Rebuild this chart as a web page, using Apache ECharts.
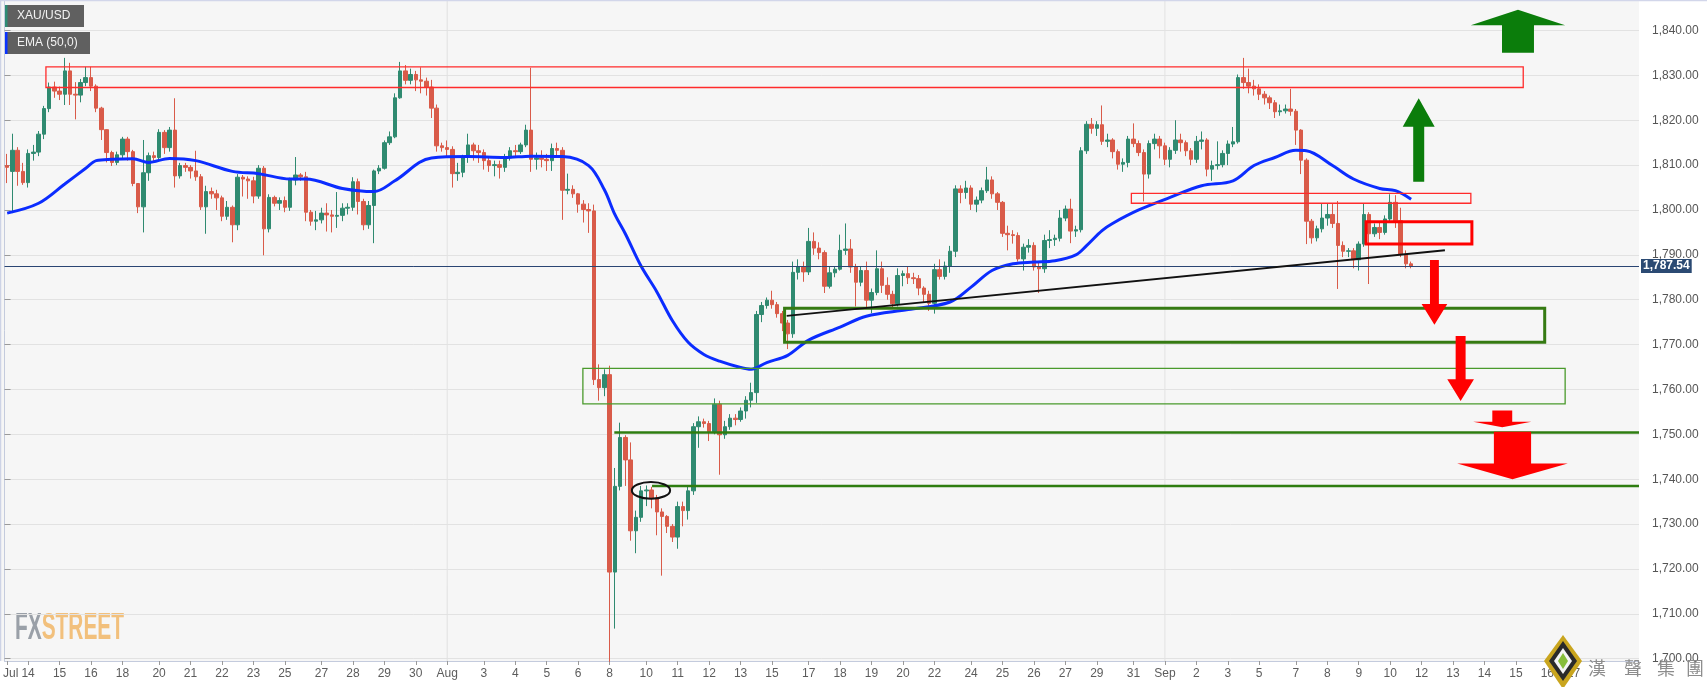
<!DOCTYPE html>
<html><head><meta charset="utf-8">
<script src="https://cdn.jsdelivr.net/npm/echarts@6/dist/echarts.min.js"></script>
<style>html,body{margin:0;padding:0;background:#fff}#c{width:1707px;height:687px}</style>
</head><body><div id="c"></div>
<script>
// ---------------- DATA ----------------
const symbolName = 'XAU/USD';
const indicatorName = 'EMA (50,0)';
const slotCount = 312;            // 4h slots on the time axis (incl. empty future space)
const lastPrice = 1787.54;
const priceMin = 1699.48, priceMax = 1846.80, priceStep = 10;
// tick labels: [slot index, label]
const tickLabels = [[0,'Jul'],[4,'14'],[10,'15'],[16,'16'],[22,'18'],[29,'20'],[35,'21'],[41,'22'],[47,'23'],[53,'25'],[60,'27'],[66,'28'],[72,'29'],[78,'30'],[84,'Aug'],[91,'3'],[97,'4'],[103,'5'],[109,'6'],[115,'8'],[122,'10'],[128,'11'],[134,'12'],[140,'13'],[146,'15'],[153,'17'],[159,'18'],[165,'19'],[171,'20'],[177,'22'],[184,'24'],[190,'25'],[196,'26'],[202,'27'],[208,'29'],[215,'31'],[221,'Sep'],[227,'2'],[233,'3'],[239,'5'],[246,'7'],[252,'8'],[258,'9'],[264,'10'],[270,'12'],[276,'13'],[282,'14'],[288,'15'],[294,'16'],[299,'17']];
const monthStarts = [84, 221];
// candles: [open, close, high, low]
const candles = [
[1809.9,1809.5,1812.5,1806.0],[1808.6,1813.3,1817.0,1799.3],[1813.3,1808.6,1814.0,1805.4],[1808.6,1806.1,1810.5,1805.6],
[1806.1,1812.6,1813.5,1805.0],[1812.6,1812.9,1814.5,1811.0],[1812.9,1816.9,1817.6,1812.0],[1816.9,1822.6,1823.2,1815.8],
[1822.6,1827.4,1828.4,1821.8],[1827.4,1826.5,1828.6,1825.0],[1826.5,1825.8,1827.5,1824.5],[1825.8,1831.0,1833.9,1823.4],
[1831.0,1825.8,1832.8,1823.4],[1825.8,1825.6,1828.5,1820.2],[1825.6,1828.4,1829.2,1824.0],[1828.4,1829.5,1831.9,1827.6],
[1829.5,1827.6,1831.9,1826.5],[1827.6,1822.7,1828.0,1821.8],[1822.7,1817.9,1823.0,1815.6],[1817.9,1812.8,1818.0,1810.6],
[1812.8,1810.6,1813.2,1809.8],[1810.6,1812.3,1813.0,1810.0],[1812.3,1815.8,1816.3,1811.5],[1815.8,1813.0,1816.3,1811.0],
[1813.0,1805.9,1813.4,1805.3],[1805.9,1800.7,1806.0,1799.3],[1800.7,1808.3,1815.6,1795.0],[1808.3,1812.1,1812.8,1806.5],
[1812.1,1811.7,1813.0,1810.5],[1811.7,1817.3,1818.0,1811.0],[1817.3,1813.9,1817.8,1812.5],[1813.9,1817.8,1818.5,1813.0],
[1817.8,1807.6,1824.9,1805.0],[1807.6,1809.9,1810.5,1807.0],[1809.9,1809.5,1810.5,1808.5],[1809.5,1808.7,1810.0,1807.0],
[1808.7,1807.4,1813.2,1806.5],[1807.4,1800.7,1808.0,1800.0],[1800.7,1804.1,1805.4,1794.7],[1804.1,1803.6,1805.0,1802.5],
[1803.6,1802.7,1804.5,1800.0],[1802.7,1798.6,1803.2,1797.5],[1798.6,1800.6,1802.0,1797.8],[1800.6,1796.7,1801.0,1792.8],
[1796.7,1807.3,1808.0,1795.5],[1807.3,1806.9,1807.8,1803.0],[1806.9,1806.5,1807.5,1802.5],[1806.5,1803.1,1807.4,1801.5],
[1803.1,1809.3,1810.0,1802.5],[1809.3,1795.8,1809.8,1789.9],[1795.8,1802.8,1803.5,1795.0],[1802.8,1801.5,1803.2,1800.8],
[1801.5,1802.1,1802.8,1800.0],[1802.1,1800.6,1803.0,1799.5],[1800.6,1806.7,1807.2,1799.8],[1806.7,1807.8,1811.8,1805.5],
[1807.8,1807.4,1808.2,1806.5],[1807.4,1799.5,1808.5,1797.5],[1799.5,1797.5,1800.0,1796.5],[1797.5,1797.8,1799.8,1795.5],
[1797.8,1799.3,1800.5,1797.0],[1799.3,1798.9,1801.5,1795.2],[1798.9,1798.6,1800.0,1795.0],[1798.6,1798.8,1804.0,1796.0],
[1798.8,1800.4,1801.5,1797.5],[1800.4,1800.6,1801.5,1799.0],[1800.6,1806.3,1807.3,1799.8],[1806.3,1801.9,1807.0,1799.0],
[1801.9,1796.7,1802.5,1795.5],[1796.7,1801.0,1802.0,1795.8],[1801.0,1808.7,1809.0,1792.6],[1808.7,1809.3,1810.0,1808.0],
[1809.3,1815.0,1815.5,1809.0],[1815.0,1816.3,1817.5,1814.5],[1816.3,1825.0,1826.0,1816.0],[1825.0,1831.0,1833.0,1824.8],
[1831.0,1828.9,1832.3,1828.0],[1828.9,1830.2,1831.5,1828.0],[1830.2,1829.0,1831.0,1826.5],[1829.0,1828.7,1831.8,1826.0],
[1828.7,1827.4,1829.5,1825.5],[1827.4,1822.7,1829.0,1820.5],[1822.7,1814.3,1823.5,1813.0],[1814.3,1813.9,1815.0,1813.0],
[1813.9,1813.5,1815.5,1812.0],[1813.5,1808.1,1814.2,1805.0],[1808.1,1808.4,1810.5,1806.5],[1808.4,1811.7,1812.3,1807.3],
[1811.7,1814.5,1817.0,1810.5],[1814.5,1813.2,1815.0,1811.0],[1813.2,1812.8,1814.5,1810.5],[1812.8,1811.0,1813.5,1809.0],
[1811.0,1809.9,1812.0,1808.5],[1809.9,1810.1,1811.0,1807.5],[1810.1,1809.5,1811.0,1807.0],[1809.5,1811.6,1812.5,1808.5],
[1811.6,1813.2,1814.0,1811.0],[1813.2,1813.0,1814.5,1812.0],[1813.0,1814.5,1815.0,1812.5],[1814.5,1817.8,1819.0,1814.0],
[1817.8,1811.3,1831.7,1808.5],[1811.3,1811.6,1812.8,1809.0],[1811.6,1811.3,1813.3,1809.5],[1811.3,1811.0,1812.5,1808.7],
[1811.0,1813.7,1814.8,1808.7],[1813.7,1813.3,1815.0,1812.0],[1813.3,1804.4,1814.0,1797.8],[1804.4,1804.6,1808.1,1803.5],
[1804.6,1803.6,1805.5,1802.7],[1803.6,1801.3,1803.8,1799.4],[1801.3,1800.1,1802.2,1797.2],[1800.1,1799.8,1801.5,1794.9],
[1799.8,1762.2,1801.2,1761.0],[1762.2,1760.4,1765.6,1757.5],[1760.4,1763.3,1764.5,1758.5],[1763.3,1719.3,1765.3,1699.3],
[1719.3,1738.4,1742.5,1706.7],[1738.4,1749.3,1752.6,1737.5],[1749.3,1744.3,1749.8,1738.5],[1744.3,1728.5,1748.2,1726.3],
[1728.5,1731.5,1733.0,1723.5],[1731.5,1737.4,1738.5,1730.5],[1737.4,1737.6,1738.6,1734.0],[1737.6,1735.8,1738.3,1733.5],
[1735.8,1732.7,1736.5,1727.5],[1732.7,1731.7,1733.5,1718.5],[1731.7,1729.5,1732.0,1728.0],[1729.5,1727.1,1730.0,1726.0],
[1727.1,1733.9,1735.0,1724.5],[1733.9,1733.0,1735.0,1729.5],[1733.0,1737.4,1738.5,1731.0],[1737.4,1751.7,1752.5,1736.5],
[1751.7,1752.8,1754.0,1747.0],[1752.8,1752.4,1753.5,1751.5],[1752.4,1750.6,1753.0,1748.5],[1750.6,1756.7,1758.0,1750.0],
[1756.7,1749.9,1757.5,1741.0],[1749.9,1751.7,1753.0,1749.0],[1751.7,1753.6,1754.5,1751.0],[1753.6,1753.3,1754.5,1752.0],
[1753.3,1755.2,1756.0,1752.8],[1755.2,1757.6,1758.5,1753.5],[1757.6,1759.3,1761.5,1756.0],[1759.3,1776.7,1777.5,1757.0],
[1776.7,1778.7,1779.5,1775.0],[1778.7,1779.9,1780.5,1778.0],[1779.9,1778.9,1782.0,1778.0],[1778.9,1776.9,1779.5,1776.0],
[1776.9,1774.8,1777.5,1773.0],[1774.8,1772.4,1775.5,1769.0],[1772.4,1786.1,1788.5,1771.5],[1786.1,1787.4,1789.0,1784.5],
[1787.4,1786.2,1788.5,1784.0],[1786.2,1793.0,1796.0,1785.5],[1793.0,1791.5,1795.0,1790.0],[1791.5,1790.5,1792.8,1789.0],
[1790.5,1783.0,1791.0,1781.5],[1783.0,1786.0,1787.5,1782.5],[1786.0,1786.8,1787.5,1785.0],[1786.8,1791.0,1794.5,1786.5],
[1791.0,1791.3,1797.0,1790.0],[1791.3,1787.3,1793.5,1786.0],[1787.3,1783.9,1788.0,1778.5],[1783.9,1786.5,1787.5,1783.0],
[1786.5,1779.9,1788.5,1778.2],[1779.9,1781.6,1782.5,1777.0],[1781.6,1786.9,1791.0,1781.0],[1786.9,1783.2,1788.5,1781.5],
[1783.2,1781.2,1785.0,1780.0],[1781.2,1779.1,1782.0,1778.0],[1779.1,1785.4,1787.0,1778.5],[1785.4,1785.8,1786.5,1783.0],
[1785.8,1784.9,1787.5,1783.5],[1784.9,1784.7,1786.0,1783.5],[1784.7,1782.6,1785.5,1781.0],[1782.6,1781.2,1783.0,1779.5],
[1781.2,1779.2,1782.0,1777.5],[1779.2,1786.7,1788.0,1776.9],[1786.7,1785.2,1789.0,1784.5],[1785.2,1787.5,1788.5,1784.5],
[1787.5,1790.8,1792.0,1786.0],[1790.8,1804.7,1805.5,1789.5],[1804.7,1803.9,1805.5,1801.5],[1803.9,1804.9,1806.5,1802.5],
[1804.9,1801.3,1805.5,1800.0],[1801.3,1802.2,1803.0,1799.5],[1802.2,1804.3,1805.0,1801.5],[1804.3,1806.7,1809.6,1803.8],
[1806.7,1803.6,1807.5,1802.5],[1803.6,1801.7,1804.0,1800.0],[1801.7,1794.8,1802.0,1794.0],[1794.8,1794.5,1796.5,1791.0],
[1794.5,1794.3,1795.5,1792.5],[1794.3,1789.1,1795.0,1788.5],[1789.1,1791.7,1792.5,1786.5],[1791.7,1792.1,1793.5,1790.5],
[1792.1,1787.3,1792.8,1786.5],[1787.3,1786.9,1788.5,1781.5],[1786.9,1793.2,1794.5,1786.0],[1793.2,1793.4,1795.5,1791.5],
[1793.4,1793.7,1794.5,1792.0],[1793.7,1798.2,1800.0,1793.0],[1798.2,1800.2,1801.0,1797.5],[1800.2,1795.3,1802.5,1792.6],
[1795.3,1795.6,1796.5,1794.0],[1795.6,1813.2,1814.0,1795.0],[1813.2,1819.1,1819.8,1812.5],[1819.1,1818.2,1820.5,1817.0],
[1818.2,1819.0,1819.8,1816.5],[1819.0,1815.3,1823.3,1814.5],[1815.3,1815.6,1817.0,1814.0],[1815.6,1813.0,1816.0,1811.5],
[1813.0,1810.2,1813.5,1809.0],[1810.2,1810.6,1811.5,1808.5],[1810.6,1815.8,1816.5,1809.5],[1815.8,1814.8,1819.3,1814.0],
[1814.8,1812.8,1815.5,1812.0],[1812.8,1808.0,1813.5,1801.9],[1808.0,1814.8,1815.5,1807.0],[1814.8,1815.8,1817.0,1813.5],
[1815.8,1814.3,1816.5,1811.5],[1814.3,1811.3,1815.0,1810.0],[1811.3,1813.3,1814.0,1809.5],[1813.3,1815.6,1820.0,1812.5],
[1815.6,1815.0,1817.0,1813.0],[1815.0,1813.2,1815.5,1812.0],[1813.2,1811.3,1813.8,1810.0],[1811.3,1815.3,1816.5,1810.5],
[1815.3,1815.6,1817.5,1813.5],[1815.6,1809.1,1816.0,1807.5],[1809.1,1809.9,1811.0,1806.5],[1809.9,1810.1,1815.3,1809.0],
[1810.1,1812.6,1813.3,1809.5],[1812.6,1814.7,1815.5,1810.0],[1814.7,1815.2,1818.5,1814.0],[1815.2,1829.5,1830.2,1814.8],
[1829.5,1828.4,1833.9,1827.0],[1828.4,1827.6,1831.5,1826.0],[1827.6,1827.0,1829.0,1825.5],[1827.0,1825.8,1828.0,1824.5],
[1825.8,1825.0,1826.5,1823.5],[1825.0,1823.9,1825.5,1822.5],[1823.9,1821.9,1824.5,1820.5],[1821.9,1822.1,1823.5,1821.0],
[1822.1,1822.5,1823.5,1821.5],[1822.5,1822.0,1827.0,1821.0],[1822.0,1817.8,1822.5,1814.5],[1817.8,1811.1,1818.0,1808.0],
[1811.1,1797.5,1811.5,1792.4],[1797.5,1793.8,1798.0,1792.5],[1793.8,1795.8,1796.5,1793.0],[1795.8,1798.2,1801.5,1795.0],
[1798.2,1799.0,1801.5,1796.5],[1799.0,1797.0,1801.5,1796.0],[1797.0,1792.1,1802.0,1782.4],[1792.1,1790.8,1793.0,1789.5],
[1790.8,1790.9,1791.5,1789.5],[1790.9,1788.9,1791.5,1787.0],[1788.9,1792.4,1793.0,1786.5],[1792.4,1799.0,1801.5,1791.8],
[1799.0,1794.7,1799.5,1783.5],[1794.7,1796.1,1797.0,1794.0],[1796.1,1795.0,1797.5,1793.5],[1795.0,1798.0,1798.8,1794.5],
[1798.0,1801.7,1803.5,1797.5],[1801.7,1797.6,1803.3,1796.0],[1797.6,1790.1,1800.5,1789.5],[1790.1,1788.0,1791.0,1787.0],
[1788.0,1787.54,1788.5,1787.0]
];
// EMA(50): [slot index, value]
const emaPoints = [[0,1799.3],[6,1801.5],[11,1805.8],[15,1809.3],[17,1811.0],[20,1811.3],[24,1811.4],[27,1810.6],[31,1811.5],[36,1811.0],[43,1808.6],[48,1808.1],[54,1806.9],[57,1806.9],[64,1804.8],[70,1804.1],[74,1806.5],[81,1811.6],[88,1811.9],[95,1811.7],[100,1812.0],[106,1811.9],[111,1809.9],[114,1804.5],[116,1799.0],[118,1794.7],[121,1787.5],[124,1781.8],[127,1775.3],[130,1770.5],[133,1767.8],[136,1766.3],[140,1764.9],[142,1764.5],[145,1766.0],[149,1767.6],[153,1771.0],[159,1773.9],[164,1776.3],[172,1777.8],[180,1779.5],[184,1782.8],[188,1786.5],[192,1788.0],[196,1788.4],[200,1788.7],[204,1790.0],[206,1792.0],[209,1795.4],[211,1797.0],[216,1800.0],[222,1802.8],[228,1805.4],[234,1806.5],[238,1809.9],[242,1811.7],[246,1813.3],[248,1813.2],[253,1809.9],[257,1806.9],[262,1804.8],[265,1804.3],[268,1802.4]];
// annotation zones: [fromSlot, toSlot, low, high] (slot units on the time axis)
const resistanceZones = [[7.9,289.9,1827.3,1831.9],[215.1,279.9,1801.5,1803.7]];
const sellZones = [[259.9,280.1,1792.4,1797.4]];
const supportZones = [[148.9,294.0,1770.5,1778.1]];
const demandZones = [[110.4,297.9,1756.8,1764.7]];
// levels: [fromSlot, toSlot, price]
const supportLevels = [[116.4,312,1750.4],[123.6,312,1738.5]];
// trend line: [fromSlot, price, toSlot, price]
const trendLines = [[149.3,1776.4,274.95,1791.0]];
// circled swing high: [slot, price]
const swingMarks = [[123.4,1737.5]];
// arrows: [slot, tail price, head-base price, tip price]
const upArrows = [[288.9,1835.05,1841.2,1844.6],[269.95,1806.3,1818.56,1824.9]];
const downArrows = [[272.95,1788.85,1779.05,1774.4],[277.95,1771.9,1762.3,1757.4],[285.9,1755.3,1752.8,1751.6],[287.85,1750.6,1743.5,1740.0]];

// ---------------- LAYOUT / STYLE ----------------
const upArrowSize = [[3.05,9.0],[1.05,3.05]];        // [shaft half-width, head half-width] in slots
const downArrowSize = [[0.85,2.45],[0.95,2.55],[1.9,5.55],[3.55,10.55]];
const ellipseSize = [3.65, 1.85];
const UP = '#2f8a70', DOWN = '#d95b49';
const labelMap = new Map(tickLabels);
const categories = Array.from({length: slotCount}, (_, i) => String(i));
const fmtPrice = v => { const p = v.toFixed(2).split('.'); return p[0].replace(/\B(?=(\d{3})+(?!\d))/g, ',') + '.' + p[1]; };
const showTick = (i) => labelMap.has(i);

function boxSeries(data, color, width) {
  return { type: 'custom', xAxisIndex: 1, yAxisIndex: 0, z: 5, silent: true, data: data,
    encode: { x: [0, 1], y: [2, 3] },
    renderItem: (p, api) => {
      const a = api.coord([api.value(0), api.value(3)]);
      const b = api.coord([api.value(1), api.value(2)]);
      return { type: 'rect', shape: { x: a[0], y: a[1], width: b[0] - a[0], height: b[1] - a[1] },
        style: { fill: 'none', stroke: color, lineWidth: width } };
    } };
}
function segSeries(data, color, width, z) {
  return { type: 'custom', xAxisIndex: 1, yAxisIndex: 0, z: z, silent: true, data: data,
    encode: { x: [0, 2], y: [1, 3] },
    renderItem: (p, api) => {
      const a = api.coord([api.value(0), api.value(1)]);
      const b = api.coord([api.value(2), api.value(3)]);
      return { type: 'line', shape: { x1: a[0], y1: a[1], x2: b[0], y2: b[1] },
        style: { stroke: color, lineWidth: width } };
    } };
}
function arrowSeries(data, sizes, color) {
  return { type: 'custom', xAxisIndex: 1, yAxisIndex: 0, z: 6, silent: true, data: data,
    encode: { x: 0, y: [1, 2, 3] },
    renderItem: (p, api) => {
      const u = api.value(0), tail = api.value(1), base = api.value(2), tip = api.value(3);
      const sw = sizes[p.dataIndex][0], hw = sizes[p.dataIndex][1];
      const pts = [[u - sw, tail], [u - sw, base], [u - hw, base], [u, tip], [u + hw, base], [u + sw, base], [u + sw, tail]].map(q => api.coord(q));
      return { type: 'polygon', shape: { points: pts }, style: { fill: color } };
    } };
}

const chart = echarts.init(document.getElementById('c'), null, { renderer: 'canvas' });
const axisFont = "'Liberation Sans Narrow','Liberation Sans',Arial,sans-serif";
const cjk = "18px 'Noto Sans CJK TC',sans-serif";
const wmChar = (ch, x) => ({ type: 'text', z: 60, silent: true, x: x, y: 668, style: { text: ch, fill: '#8c8c8c', font: cjk, align: 'center', textAlign: 'center', verticalAlign: 'middle', textVerticalAlign: 'middle' } });
const option = {
  animation: false,
  backgroundColor: '#ffffff',
  grid: { left: 0, right: 68, top: 0, bottom: 26, containLabel: false },
  xAxis: [
    { type: 'category', data: categories, boundaryGap: true,
      axisLine: { show: true, lineStyle: { color: '#c4cbdd', width: 1 } },
      axisTick: { show: true, alignWithLabel: true, interval: showTick, length: 4, lineStyle: { color: '#9a9a9a' } },
      axisLabel: { interval: showTick, margin: 7, color: '#5c5c5c', fontSize: 12, fontFamily: axisFont,
        formatter: (v, i) => { const t = labelMap.get(Number(v)) || ''; return t === 'Jul' ? '{j|Jul}' : t; },
        rich: { j: { padding: [0, 0, 0, 7], color: '#5c5c5c', fontSize: 12, fontFamily: axisFont } } },
      splitLine: { show: false } },
    { type: 'value', min: 0, max: slotCount, show: false }
  ],
  yAxis: { type: 'value', position: 'right', min: priceMin, max: priceMax, minInterval: priceStep, maxInterval: priceStep, splitNumber: 15,
    axisLine: { show: true, lineStyle: { color: '#c4cbdd' } },
    axisTick: { show: true, length: 6, lineStyle: { color: '#9a9a9a' } },
    axisLabel: { margin: 13, color: '#555', fontSize: 12, fontFamily: "'Liberation Sans',Arial,sans-serif", formatter: fmtPrice, showMinLabel: false, showMaxLabel: false },
    splitLine: { show: true, lineStyle: { color: '#e2e2e2', width: 1 } } },
  graphic: [
    { type: 'rect', z: -1, silent: true, shape: { x: 0, y: 0, width: 1639, height: 661 }, style: { fill: '#f6f6f6' } },
    { type: 'line', z: 50, silent: true, shape: { x1: 0, y1: 0.5, x2: 1707, y2: 0.5 }, style: { stroke: '#d2d6ea', lineWidth: 1.5 } },
    { type: 'line', z: 50, silent: true, shape: { x1: 0.5, y1: 0, x2: 0.5, y2: 661 }, style: { stroke: '#cdd3e6', lineWidth: 1.5 } },
    { type: 'rect', z: 50, shape: { x: 5, y: 5, width: 79, height: 22 }, style: { fill: '#606060' } },
    { type: 'rect', z: 51, shape: { x: 5, y: 5, width: 2.5, height: 22 }, style: { fill: '#2e8b74' } },
    { type: 'text', z: 52, x: 17, y: 16, style: { text: symbolName, fill: '#f2f2f2', font: "12px 'Liberation Sans',Arial,sans-serif", verticalAlign: 'middle', textVerticalAlign: 'middle' } },
    { type: 'rect', z: 50, shape: { x: 5, y: 32, width: 85, height: 22 }, style: { fill: '#606060' } },
    { type: 'rect', z: 51, shape: { x: 5, y: 32, width: 2.5, height: 22 }, style: { fill: '#0a33ff' } },
    { type: 'text', z: 52, x: 17, y: 43, style: { text: indicatorName, fill: '#f2f2f2', font: "12px 'Liberation Sans',Arial,sans-serif", verticalAlign: 'middle', textVerticalAlign: 'middle' } },
    { type: 'group', z: 50, x: 15, y: 629, scaleX: 0.58, children: [
      { type: 'text', style: { text: '{a|FX}{b|STREET}', font: "bold 36px 'Liberation Sans Narrow','Liberation Sans',sans-serif", verticalAlign: 'middle', textVerticalAlign: 'middle',
        rich: { a: { fill: '#9aa0a8', color: '#9aa0a8', font: "bold 36px 'Liberation Sans Narrow','Liberation Sans',sans-serif" }, b: { fill: '#f2c07c', color: '#f2c07c', font: "bold 36px 'Liberation Sans Narrow','Liberation Sans',sans-serif" } } } } ] },
    { type: 'polygon', z: 60, silent: true, shape: { points: [[1563, 635], [1582, 661], [1563, 689], [1544, 661]] }, style: { fill: '#c9a51e' } },
    { type: 'polygon', z: 61, silent: true, shape: { points: [[1563, 641], [1577, 661], [1563, 681], [1549, 661]] }, style: { fill: '#2a2a2a' } },
    { type: 'polygon', z: 62, silent: true, shape: { points: [[1563, 648], [1572, 661], [1563, 674], [1554, 661]] }, style: { fill: '#f4f4f4' } },
    { type: 'polygon', z: 63, silent: true, shape: { points: [[1563, 653], [1568, 661], [1563, 669], [1558, 661]] }, style: { fill: '#86bd3a' } },
    wmChar('漢', 1597), wmChar('聲', 1633), wmChar('集', 1666), wmChar('團', 1695)
  ],
  series: [
    segSeries(monthStarts.map(i => [i + 0.5, priceMin, i + 0.5, priceMax]), '#e2e2e2', 1, 1),
    { type: 'candlestick', xAxisIndex: 0, yAxisIndex: 0, z: 3, barWidth: 4,
      data: candles.map(r => [r[0], r[1], r[3], r[2]]),
      itemStyle: { color: UP, color0: DOWN, borderColor: UP, borderColor0: DOWN, borderWidth: 1 },
      markLine: { silent: true, symbol: ['none', 'none'], animation: false,
        lineStyle: { color: '#2a4573', width: 1, type: 'solid' },
        label: { show: true, position: 'end', distance: 2, formatter: () => fmtPrice(lastPrice),
          backgroundColor: '#2b4a73', color: '#ffffff', fontWeight: 'bold', fontSize: 12,
          fontFamily: "'Liberation Sans',Arial,sans-serif", padding: [1, 2, 1, 2] },
        data: [{ yAxis: lastPrice }] } },
    { type: 'line', xAxisIndex: 0, yAxisIndex: 0, z: 4, data: emaPoints, smooth: 0.35, showSymbol: false, silent: true,
      lineStyle: { color: '#0b2cff', width: 3 } },
    boxSeries(resistanceZones, '#ff2b2b', 1.3),
    boxSeries(sellZones, '#ff0000', 3),
    boxSeries(supportZones, '#357a12', 3),
    boxSeries(demandZones, '#4a9a2c', 1.3),
    segSeries(supportLevels.map(r => [r[0], r[2], r[1], r[2]]), '#2e7d10', 2.5, 5),
    segSeries(trendLines, '#111111', 2, 5),
    { type: 'custom', xAxisIndex: 1, yAxisIndex: 0, z: 6, silent: true, data: swingMarks, encode: { x: 0, y: 1 },
      renderItem: (p, api) => {
        const c = api.coord([api.value(0), api.value(1)]);
        const e = api.coord([api.value(0) + ellipseSize[0], api.value(1) + ellipseSize[1]]);
        return { type: 'ellipse', shape: { cx: c[0], cy: c[1], rx: Math.abs(e[0] - c[0]), ry: Math.abs(c[1] - e[1]) },
          style: { fill: 'none', stroke: '#111111', lineWidth: 2 } };
      } },
    arrowSeries(upArrows, upArrowSize, '#0b7d0b'),
    arrowSeries(downArrows, downArrowSize, '#ff0000')
  ]
};
chart.setOption(option);
</script></body></html>
